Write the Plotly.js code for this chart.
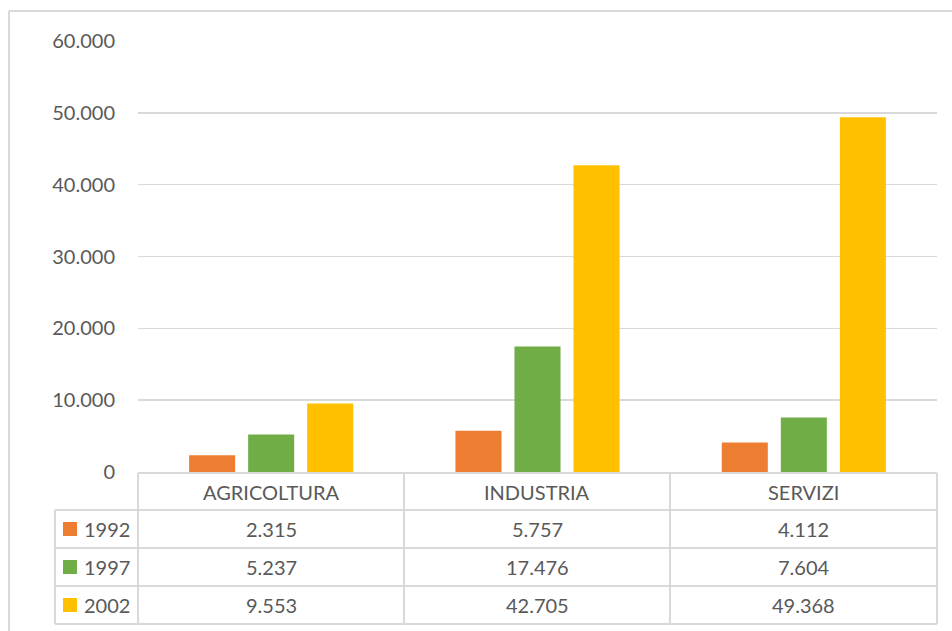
<!DOCTYPE html>
<html>
<head>
<meta charset="utf-8">
<script src="https://cdn.plot.ly/plotly-3.0.1.min.js"></script>
<style>html,body{margin:0;padding:0;background:#fff;}#chart{width:952px;height:631px;}</style>
</head>
<body>
<div id="chart"></div>
<script>
const categories = ['AGRICOLTURA', 'INDUSTRIA', 'SERVIZI'];
const years = ['1992', '1997', '2002'];
const values1992 = [2315, 5757, 4112];
const values1997 = [5237, 17476, 7604];
const values2002 = [9553, 42705, 49368];
const colors = ['#ED7D31', '#70AD47', '#FFC000'];
const series = [values1992, values1997, values2002];

const W = 952, H = 631;
const L = 138, R = 937, T = 41, B = 472;
const X = px => (px - L) / (R - L);
const Y = py => (B - py) / (B - T);
const txt = '#595959';
const gridC = '#d9d9d9';
const FONT = 'Lato, "Open Sans", sans-serif';
const FS = 20;

function fmt(v) {
  return String(v).replace(/\B(?=(\d{3})+(?!\d))/g, '.');
}

const traces = series.map((vals, i) => ({
  type: 'bar', x: categories, y: vals, name: years[i],
  marker: {color: colors[i]}, hoverinfo: 'none'
}));

const shapes = [];
const annotations = [];
const line = (x0, y0, x1, y1) => shapes.push({type: 'line', xref: 'paper', yref: 'paper',
  x0: X(x0), y0: Y(y0), x1: X(x1), y1: Y(y1), line: {color: gridC, width: 2}});

// outer chart border
line(9, 11, 960, 11);
line(9, 11, 9, 640);

// table grid
const rowsY = [473, 510, 548, 586, 624];
const colsX = [138, 404, 670, 937];
line(138, 473, 937, 473);
for (let r = 1; r < rowsY.length; r++) line(55, rowsY[r], 937, rowsY[r]);
line(55, 510, 55, 624);
colsX.forEach(cx => line(cx, 473, cx, 624));

// header labels
categories.forEach((c, j) => {
  annotations.push({xref: 'paper', yref: 'paper', x: X((colsX[j] + colsX[j + 1]) / 2),
    y: Y((rowsY[0] + rowsY[1]) / 2), text: c, showarrow: false, xanchor: 'center', yanchor: 'middle',
    font: {family: FONT, size: FS, color: txt}});
});

// rows
series.forEach((vals, i) => {
  const cy = (rowsY[i + 1] + rowsY[i + 2]) / 2;
  shapes.push({type: 'rect', xref: 'paper', yref: 'paper', x0: X(63), x1: X(77),
    y0: Y(cy - 7), y1: Y(cy + 7), fillcolor: colors[i], line: {width: 0}});
  annotations.push({xref: 'paper', yref: 'paper', x: X(82), y: Y(cy), text: years[i],
    showarrow: false, xanchor: 'left', yanchor: 'middle', font: {family: FONT, size: FS, color: txt}});
  vals.forEach((v, j) => {
    annotations.push({xref: 'paper', yref: 'paper', x: X((colsX[j] + colsX[j + 1]) / 2), y: Y(cy),
      text: fmt(v), showarrow: false, xanchor: 'center', yanchor: 'middle',
      font: {family: FONT, size: FS, color: txt}});
  });
});

const layout = {
  width: W, height: H,
  margin: {l: L, r: W - R, t: T, b: H - B, pad: 0},
  paper_bgcolor: '#fff', plot_bgcolor: '#fff',
  showlegend: false,
  barmode: 'group', bargap: 0.335, bargroupgap: 0.22,
  separators: ',.',
  font: {family: FONT, size: FS, color: txt},
  xaxis: {showticklabels: false, ticks: '', showgrid: false, zeroline: false, showline: false, fixedrange: true},
  yaxis: {range: [0, 60000], dtick: 10000, tickformat: ',d', showgrid: true, gridcolor: gridC, gridwidth: 1.5,
    zeroline: false, showline: false, ticks: '', ticklabelstandoff: 22,
    tickfont: {family: FONT, size: FS, color: txt}, fixedrange: true},
  shapes: shapes,
  annotations: annotations
};

Plotly.newPlot('chart', traces, layout, {displayModeBar: false, staticPlot: true});
</script>
</body>
</html>
